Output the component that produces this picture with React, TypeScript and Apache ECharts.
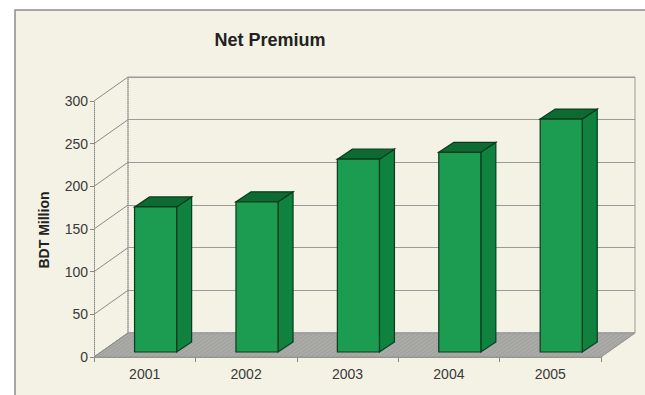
import React, { useEffect, useRef } from "react";
import * as echarts from "echarts";

const categories = ["2001", "2002", "2003", "2004", "2005"];
const netPremium = [170, 176, 226, 234, 273];
const yTicks = [0, 50, 100, 150, 200, 250, 300];
const titleText = "Net Premium";
const yAxisTitle = "BDT Million";

const DX = 34;
const DY = -24;

export default function App() {
  const ref = useRef<HTMLDivElement>(null);
  useEffect(() => {
    if (!ref.current) return;
    const chart = echarts.init(ref.current, null, { renderer: "svg" });
    const font = "Liberation Sans, Arial, sans-serif";
    const option: any = {
      animation: false,
      backgroundColor: "#ffffff",
      graphic: [
        {
          type: "rect",
          z: -10,
          shape: { x: 15, y: 10, width: 640, height: 390 },
          style: { fill: "#f4f2e4", stroke: "#8c8c8c", lineWidth: 1.5 },
        },
        {
          type: "text",
          x: 270,
          y: 40,
          style: {
            text: titleText,
            font: `bold 18px ${font}`,
            fill: "#222222",
            align: "center",
            verticalAlign: "middle",
          },
        },
        {
          type: "text",
          x: 44,
          y: 230,
          rotation: Math.PI / 2,
          style: {
            text: yAxisTitle,
            font: `bold 14px ${font}`,
            fill: "#222222",
            align: "center",
            verticalAlign: "middle",
          },
        },
      ],
      grid: [
        { left: 94, right: 44, top: 101, bottom: 38 },
        {
          left: 94 + DX,
          right: 44 - DX,
          top: 101 + DY,
          bottom: 38 - DY,
          show: true,
          borderColor: "#9a9a9a",
          borderWidth: 1,
        },
      ],
      xAxis: [
        {
          type: "category",
          data: categories,
          gridIndex: 0,
          axisLine: { show: true, lineStyle: { color: "#888888" } },
          axisTick: { show: true, length: 5, lineStyle: { color: "#888888" } },
          axisLabel: { color: "#3a3a3a", fontSize: 14, fontFamily: font, margin: 10 },
        },
        {
          type: "category",
          data: categories,
          gridIndex: 1,
          show: false,
        },
      ],
      yAxis: [
        {
          type: "value",
          gridIndex: 0,
          min: 0,
          max: 300,
          interval: 50,
          axisLine: { show: true, lineStyle: { color: "#888888", type: "dotted" } },
          axisTick: { show: true, length: 4, lineStyle: { color: "#888888" } },
          axisLabel: { color: "#3a3a3a", fontSize: 14, fontFamily: font, margin: 6 },
          splitLine: { show: false },
        },
        {
          type: "value",
          gridIndex: 1,
          min: 0,
          max: 300,
          interval: 50,
          axisLine: { show: false },
          axisTick: { show: false },
          axisLabel: { show: false },
          splitLine: { show: true, lineStyle: { color: "#9a9a9a", width: 1 } },
        },
      ],
      series: [
        {
          type: "custom",
          xAxisIndex: 0,
          yAxisIndex: 0,
          z: 1,
          silent: true,
          data: [[0]],
          renderItem: (params: any, api: any) => {
            const bw = api.size([1, 0])[0];
            const first = api.coord([0, 0]);
            const last = api.coord([categories.length - 1, 0]);
            const L = first[0] - bw / 2;
            const R = last[0] + bw / 2;
            const y0 = first[1];
            const children: any[] = [
              {
                type: "polygon",
                shape: {
                  points: [
                    [L, y0],
                    [R, y0],
                    [R + DX, y0 + DY],
                    [L + DX, y0 + DY],
                  ],
                },
                style: {
                  fill: "#a3a4a0",
                  stroke: "#999999",
                  lineWidth: 1,
                  decal: {
                    symbol: "rect",
                    color: "rgba(255,255,255,0.12)",
                    dashArrayX: [1, 0],
                    dashArrayY: [1, 2],
                    rotation: -0.6,
                  },
                },
              },
              {
                type: "line",
                shape: {
                  x1: L + DX,
                  y1: api.coord([0, yTicks[yTicks.length - 1]])[1] + DY,
                  x2: L + DX,
                  y2: y0 + DY,
                },
                style: { stroke: "#8a8a8a", lineWidth: 1, lineDash: [1, 1] },
              },
            ];
            yTicks.forEach((v) => {
              const y = api.coord([0, v])[1];
              children.push({
                type: "line",
                shape: { x1: L, y1: y, x2: L + DX, y2: y + DY },
                style: { stroke: "#8a8a8a", lineWidth: 1 },
              });
            });
            return { type: "group", children };
          },
        },
        {
          type: "custom",
          xAxisIndex: 0,
          yAxisIndex: 0,
          z: 3,
          data: netPremium.map((v, i) => [i, v]),
          renderItem: (params: any, api: any) => {
            const bw = api.size([1, 0])[0];
            const c = api.coord([api.value(0), api.value(1)]);
            const base = api.coord([api.value(0), 0]);
            const oy = -5;
            const sx = 15;
            const sy = -10;
            const x0 = c[0] - bw * 0.1;
            const x1 = c[0] + bw * 0.315;
            const top = c[1] + oy;
            const bot = base[1] + oy;
            const stroke = "#0b3b1d";
            return {
              type: "group",
              children: [
                {
                  type: "polygon",
                  shape: {
                    points: [
                      [x1, top],
                      [x1 + sx, top + sy],
                      [x1 + sx, bot + sy],
                      [x1, bot],
                    ],
                  },
                  style: { fill: "#0f8240", stroke, lineWidth: 1.2 },
                },
                {
                  type: "polygon",
                  shape: {
                    points: [
                      [x0, top],
                      [x0 + sx, top + sy],
                      [x1 + sx, top + sy],
                      [x1, top],
                    ],
                  },
                  style: { fill: "#0c6a32", stroke, lineWidth: 1.2 },
                },
                {
                  type: "polygon",
                  shape: {
                    points: [
                      [x0, top],
                      [x1, top],
                      [x1, bot],
                      [x0, bot],
                    ],
                  },
                  style: { fill: "#1c9c50", stroke, lineWidth: 1.2 },
                },
              ],
            };
          },
        },
      ],
    };
    chart.setOption(option);
    return () => chart.dispose();
  }, []);
  return (
    <div
      ref={ref}
      style={{ position: "fixed", left: 0, top: 0, width: 645, height: 395 }}
    />
  );
}
